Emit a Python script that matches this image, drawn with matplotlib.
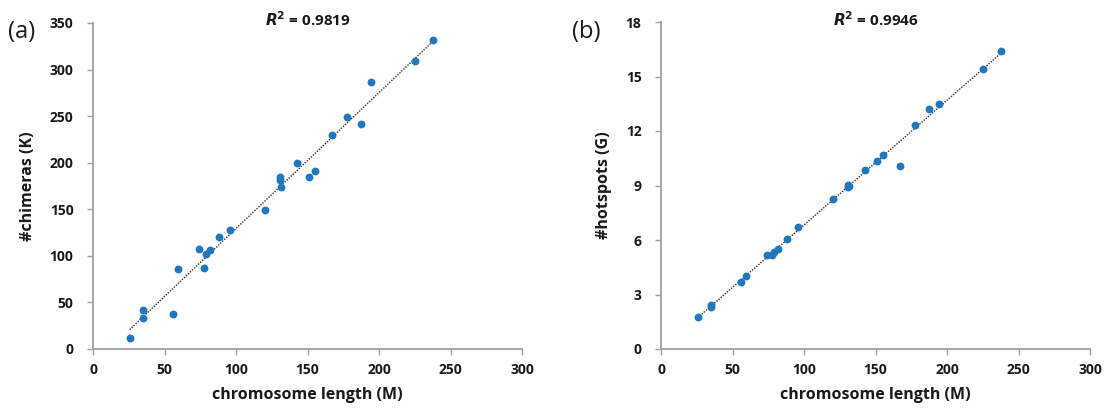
import numpy as np
import matplotlib
matplotlib.use("Agg")
import matplotlib.pyplot as plt

plt.rcParams['font.family'] = ['Open Sans', 'DejaVu Sans']
plt.rcParams['font.weight'] = 'bold'

chrom_len = [25.6, 34.7, 34.9, 55.8, 59.3, 74.4, 77.6, 78.7, 81.6, 88.3, 95.6, 120.1,
             130.5, 131.0, 131.3, 142.8, 150.9, 155.2, 167.2, 177.3, 187.6, 194.6, 225.0, 238.1]
chimeras = [11.4, 33.6, 41.8, 37.2, 85.8, 107.3, 86.9, 101.9, 106.6, 120.2, 127.7, 148.8,
            181.0, 184.5, 174.2, 199.9, 184.5, 191.0, 230.0, 249.3, 242.1, 286.5, 308.7, 331.9]
hotspots = [1.75, 2.33, 2.44, 3.69, 4.01, 5.17, 5.20, 5.33, 5.51, 6.07, 6.71, 8.24,
            8.93, 9.01, 8.98, 9.87, 10.37, 10.70, 10.09, 12.33, 13.22, 13.49, 15.40, 16.42]

x_ticks = [0, 50, 100, 150, 200, 250, 300]
a_ticks = [0, 50, 100, 150, 200, 250, 300, 350]
b_ticks = [0, 3, 6, 9, 12, 15, 18]

W, H = 1105, 412
fig = plt.figure(figsize=(W / 100, H / 100), dpi=100)

blue = '#2177BD'
grey = '#A0A0A0'
txt = '#1a1a1a'

def make_panel(rect, y, yticks, ylabel, r2, tag, tagx):
    l, t, r, b = rect
    ax = fig.add_axes([l / W, 1 - b / H, (r - l) / W, (b - t) / H])
    x = np.array(chrom_len)
    yv = np.array(y)
    ax.scatter(x, yv, s=32, color=blue, zorder=3, linewidths=0)
    k, c = np.polyfit(x, yv, 1)
    xs = np.array([x.min(), x.max()])
    ax.plot(xs, k * xs + c, linestyle=(0, (1, 1)), color='#303030', linewidth=1.0, zorder=2)
    ax.set_xlim(0, 300)
    ax.set_ylim(yticks[0], yticks[-1])
    ax.set_xticks(x_ticks)
    ax.set_yticks(yticks)
    for s in ['top', 'right']:
        ax.spines[s].set_visible(False)
    for s in ['left', 'bottom']:
        ax.spines[s].set_color(grey)
        ax.spines[s].set_linewidth(1.3)
    ax.tick_params(direction='out', length=4, width=1, color=grey, labelcolor=txt, labelsize=10)
    ax.tick_params(axis='y', pad=10)
    ax.tick_params(axis='x', pad=6)
    ax.set_xlabel('chromosome length (M)', fontsize=11.5, fontweight='bold', color=txt, labelpad=7)
    ax.set_ylabel(ylabel, fontsize=11.5, fontweight='bold', color=txt, labelpad=10)
    fig.text((l + r) / 2 / W, 1 - 20 / H, r'$\mathbfit{R}^\mathbf{2}$' + ' = ' + r2,
             ha='center', va='center', fontsize=11, fontweight='bold', color=txt)
    fig.text(tagx / W, 1 - 32 / H, tag, fontsize=17, fontweight='normal', color=txt,
             ha='left', va='center')
    return ax

make_panel((93, 23, 522, 349), chimeras, a_ticks, '#chimeras (K)', '0.9819', '(a)', 8)
make_panel((661, 22, 1090, 349), hotspots, b_ticks, '#hotspots (G)', '0.9946', '(b)', 572)

fig.savefig('out.png', dpi=100, facecolor='white')
